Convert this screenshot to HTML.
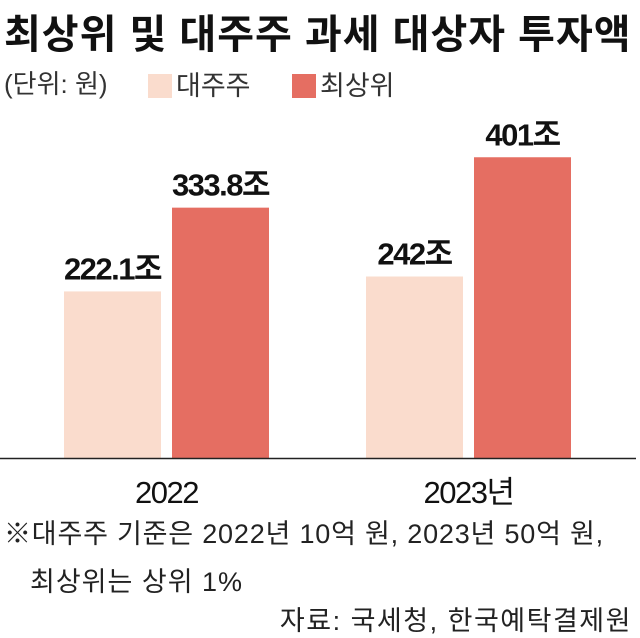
<!DOCTYPE html>
<html><head><meta charset="utf-8"><style>
body{margin:0;width:640px;height:636px;background:#fff;font-family:"Liberation Sans","Noto Sans CJK KR",sans-serif;overflow:hidden;position:relative;color:#111}
.t{position:absolute;white-space:nowrap}
</style></head><body>
<div class="t" style="left:4px;top:2px;font-size:40px;font-weight:bold;letter-spacing:1px">최상위 및 대주주 과세 대상자 투자액</div>
<div class="t" style="left:4px;top:64px;font-size:26px;color:#333">(단위: 원)</div>
<div class="t" style="left:148px;top:64px;font-size:27px;color:#333"><span style="display:inline-block;width:24px;height:24px;background:#fadccd;vertical-align:-3px;margin-right:4px"></span>대주주</div>
<div class="t" style="left:292px;top:64px;font-size:27px;color:#333"><span style="display:inline-block;width:24px;height:24px;background:#e56e62;vertical-align:-3px;margin-right:4px"></span>최상위</div>
<svg id="chart" width="640" height="636" style="position:absolute;left:0;top:0"></svg>
<div class="t" style="left:4px;top:512px;font-size:27px;color:#222;letter-spacing:0.8px">※대주주 기준은 2022년 10억 원, 2023년 50억 원,</div>
<div class="t" style="left:30px;top:560px;font-size:27px;color:#222;letter-spacing:1px">최상위는 상위 1%</div>
<div class="t" style="right:8px;top:599px;font-size:27px;color:#222;letter-spacing:1.5px">자료: 국세청, 한국예탁결제원</div>
<script>
const categories=["2022","2023년"];
const majorValues=[222.1,242];
const topValues=[333.8,401];
const valueLabels=[["222.1조","333.8조"],["242조","401조"]];
const svg=document.getElementById('chart');
const NS='http://www.w3.org/2000/svg';
const base=458, scale=0.75;
const y=v=>base-v*scale;
const groupX=[64,366];
const bw=97, gap=11;
function add(tag,attrs,txt){const e=document.createElementNS(NS,tag);for(const k in attrs)e.setAttribute(k,attrs[k]);if(txt)e.textContent=txt;svg.appendChild(e);return e;}
categories.forEach((c,i)=>{
  const series=[[majorValues[i],'#fadccd'],[topValues[i],'#e56e62']];
  series.forEach((s,j)=>{
    const x=groupX[i]+j*(bw+gap);
    const r=add('rect',{x:x,y:y(s[0]),width:bw,height:base-y(s[0]),fill:s[1]});
    
    
    const t=add('text',{x:x+bw/2,y:y(s[0])-12,'text-anchor':'middle','font-size':'31','font-weight':'bold','letter-spacing':'-1.5',fill:'#111'},valueLabels[i][j]);
    
    
  });
  const l=add('text',{x:groupX[i]+bw+gap/2,y:base+45,'text-anchor':'middle','font-size':'31','letter-spacing':'-1.5',fill:'#111'},c);
  
  
});
const ax=add('line',{x1:0,x2:636,y1:base+0.5,y2:base+0.5,stroke:'#222','stroke-width':1.5});


</script>
</body></html>
